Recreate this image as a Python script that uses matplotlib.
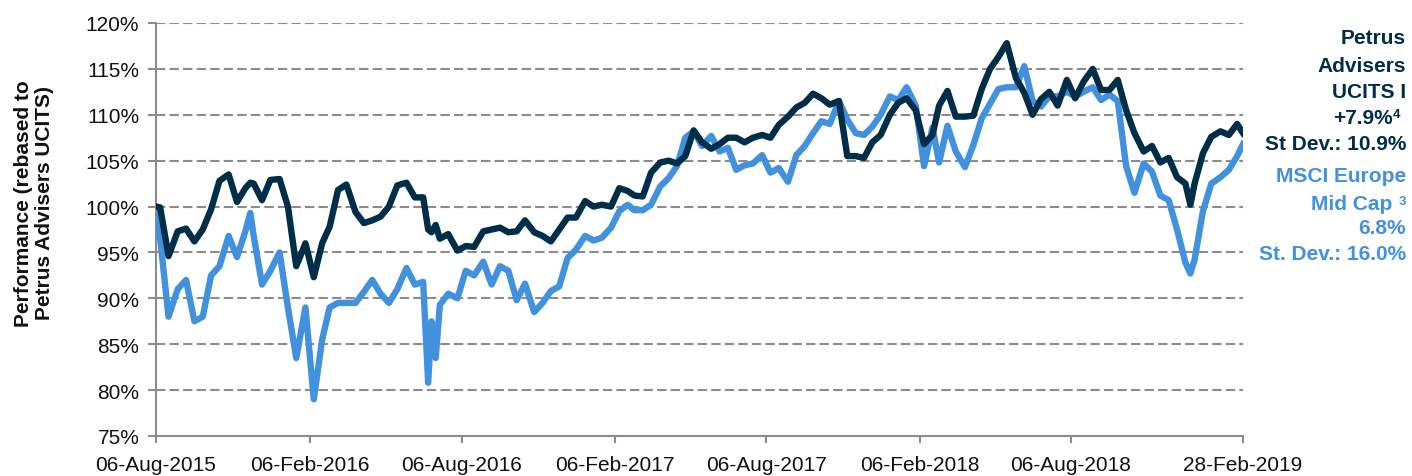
import matplotlib
matplotlib.use("Agg")
import matplotlib.pyplot as plt
import matplotlib.dates as mdates
import pandas as pd

# Valori (performance in %, ribasata a 100)
DATES = [
    "2015-08-06", "2015-08-11", "2015-08-21", "2015-09-01", "2015-09-11", "2015-09-21",
    "2015-10-01", "2015-10-11", "2015-10-21", "2015-11-01", "2015-11-11", "2015-11-21",
    "2015-11-27", "2015-12-01", "2015-12-11", "2015-12-21", "2016-01-01", "2016-01-11",
    "2016-01-21", "2016-02-01", "2016-02-11", "2016-02-21", "2016-03-01", "2016-03-11",
    "2016-03-21", "2016-04-01", "2016-04-11", "2016-04-21", "2016-05-01", "2016-05-11",
    "2016-05-21", "2016-06-01", "2016-06-11", "2016-06-21", "2016-06-27", "2016-07-01",
    "2016-07-06", "2016-07-11", "2016-07-21", "2016-08-01", "2016-08-11", "2016-08-21",
    "2016-09-01", "2016-09-11", "2016-09-21", "2016-10-01", "2016-10-11", "2016-10-21",
    "2016-11-01", "2016-11-11", "2016-11-21", "2016-12-01", "2016-12-11", "2016-12-21",
    "2017-01-01", "2017-01-11", "2017-01-21", "2017-02-01", "2017-02-11", "2017-02-21",
    "2017-03-01", "2017-03-11", "2017-03-21", "2017-04-01", "2017-04-11", "2017-04-21",
    "2017-05-01", "2017-05-11", "2017-05-21", "2017-06-01", "2017-06-11", "2017-06-21",
    "2017-07-01", "2017-07-11", "2017-07-21", "2017-08-01", "2017-08-11", "2017-08-21",
    "2017-09-01", "2017-09-11", "2017-09-21", "2017-10-01", "2017-10-11", "2017-10-21",
    "2017-11-01", "2017-11-11", "2017-11-21", "2017-12-01", "2017-12-11", "2017-12-21",
    "2018-01-01", "2018-01-11", "2018-01-21", "2018-02-01", "2018-02-11", "2018-02-21",
    "2018-03-01", "2018-03-11", "2018-03-21", "2018-04-01", "2018-04-11", "2018-04-21",
    "2018-05-01", "2018-05-11", "2018-05-21", "2018-06-01", "2018-06-11", "2018-06-21",
    "2018-07-01", "2018-07-11", "2018-07-21", "2018-08-01", "2018-08-11", "2018-08-21",
    "2018-09-01", "2018-09-11", "2018-09-21", "2018-10-01", "2018-10-11", "2018-10-21",
    "2018-11-01", "2018-11-11", "2018-11-21", "2018-12-01", "2018-12-11", "2018-12-21",
    "2018-12-27", "2019-01-01", "2019-01-11", "2019-01-21", "2019-02-01", "2019-02-11",
    "2019-02-21", "2019-02-28",
]

PETRUS = [
    100.0, 99.9, 94.6, 97.3, 97.6, 96.2,
    97.5, 99.7, 102.8, 103.5, 100.5, 102.0,
    102.6, 102.5, 100.7, 102.9, 103.0, 100.0,
    93.5, 96.0, 92.3, 96.0, 97.8, 101.8,
    102.4, 99.4, 98.2, 98.5, 98.9, 100.0,
    102.3, 102.6, 101.0, 101.0, 97.5, 97.2,
    98.0, 96.5, 97.0, 95.2, 95.7, 95.6,
    97.3, 97.5, 97.7, 97.2, 97.3, 98.5,
    97.2, 96.8, 96.2, 97.5, 98.8, 98.8,
    100.6, 100.0, 100.2, 100.0, 102.0, 101.7,
    101.2, 101.1, 103.7, 104.8, 105.0, 104.7,
    105.5, 108.3, 107.0, 106.3, 106.8, 107.5,
    107.5, 107.0, 107.5, 107.8, 107.5, 108.9,
    109.8, 110.8, 111.3, 112.3, 111.8, 111.1,
    111.5, 105.5, 105.5, 105.3, 107.0, 107.8,
    110.0, 111.3, 111.8, 110.5, 106.8, 107.8,
    111.0, 112.6, 109.8, 109.8, 109.9, 112.8,
    115.0, 116.3, 117.8, 114.0, 112.4, 110.0,
    111.7, 112.5, 111.0, 113.8, 111.8, 113.6,
    115.0, 112.7, 112.7, 113.8, 110.5, 108.0,
    106.0, 106.6, 104.8, 105.3, 103.2, 102.5,
    100.2, 102.5, 105.8, 107.6, 108.2, 107.8,
    109.0, 108.0,
]

MSCI = [
    99.5, 96.5, 88.0, 91.0, 92.0, 87.5,
    88.0, 92.5, 93.5, 96.8, 94.5, 97.3,
    99.3, 96.8, 91.5, 93.0, 95.0, 89.0,
    83.5, 89.0, 79.0, 85.5, 89.0, 89.5,
    89.5, 89.5, 90.7, 92.0, 90.5, 89.5,
    91.0, 93.3, 91.5, 91.8, 80.8, 87.5,
    83.5, 89.3, 90.5, 90.0, 93.0, 92.5,
    94.0, 91.5, 93.5, 93.0, 89.8, 91.6,
    88.5, 89.5, 90.8, 91.3, 94.4, 95.3,
    96.8, 96.3, 96.6, 97.7, 99.5, 100.2,
    99.6, 99.6, 100.2, 102.2, 103.1, 104.4,
    107.5, 108.2, 106.6, 107.7, 106.0, 106.4,
    104.0, 104.5, 104.7, 105.6, 103.7, 104.2,
    102.7, 105.6, 106.6, 108.0, 109.3, 109.0,
    111.5, 109.5, 108.0, 107.8, 108.7, 110.0,
    112.0, 111.6, 113.0, 111.0, 104.4, 108.6,
    104.8, 108.8, 106.0, 104.3, 106.7, 109.6,
    111.2, 112.8, 113.0, 113.0, 115.3, 111.5,
    110.9, 112.0, 112.0, 112.5, 112.0, 112.5,
    113.0, 111.6, 112.2, 111.5, 104.4, 101.5,
    104.7, 103.8, 101.2, 100.7, 97.5, 93.9,
    92.7, 94.2, 99.5, 102.5, 103.2, 104.0,
    105.5, 106.8,
]

TICK_DATES = ["2015-08-06", "2016-02-06", "2016-08-06", "2017-02-06",
              "2017-08-06", "2018-02-06", "2018-08-06", "2019-02-28"]
Y_TICKS = [75, 80, 85, 90, 95, 100, 105, 110, 115, 120]

DARK = "#002d47"
LIGHT = "#4291df"
GRID = "#8c8c8c"

plt.rcParams['font.family'] = ['Liberation Sans', 'DejaVu Sans']

dates = pd.to_datetime(DATES)
ticks = pd.to_datetime(TICK_DATES)

fig = plt.figure(figsize=(14.12, 4.77), dpi=100)
ax = fig.add_axes([156 / 1412, 40 / 477, 1087 / 1412, 413 / 477])

ax.plot(dates, MSCI, color=LIGHT, lw=4.6, solid_joinstyle="round", zorder=3)
ax.plot(dates, PETRUS, color=DARK, lw=4.6, solid_joinstyle="round", zorder=4)

ax.set_xlim(ticks[0], ticks[-1])
ax.set_ylim(75, 120)
ax.set_yticks(Y_TICKS)
ax.set_yticklabels([f"{v}%" for v in Y_TICKS])
ax.set_xticks(ticks)
ax.xaxis.set_major_formatter(mdates.DateFormatter("%d-%b-%Y"))

for v in Y_TICKS[1:]:
    ax.axhline(v, color=GRID, lw=1.5, linestyle=(0, (4.5, 2)), zorder=1)

for s in ["top", "right"]:
    ax.spines[s].set_visible(False)
for s in ["left", "bottom"]:
    ax.spines[s].set_color(GRID)
    ax.spines[s].set_linewidth(1.5)

ax.tick_params(axis="y", direction="out", length=6, width=1.5, color=GRID,
               labelsize=15, pad=6, labelcolor="#111111")
ax.tick_params(axis="x", direction="out", length=5, width=1.5, color=GRID,
               labelsize=15, pad=9, labelcolor="#111111")

fig.text(0.024, 0.574, "Performance (rebased to\nPetrus Advisers UCITS)",
         rotation=90, ha="center", va="center", multialignment="center",
         fontsize=15, fontweight="bold", color="#111111", linespacing=1.15)

# testo a destra: nomi, performance e deviazione standard
right_x = 1406 / 1412
sup_x = 1392.5 / 1412
petrus_lines = ["Petrus", "Advisers", "UCITS I", "+7.9%", "St Dev.: 10.9%"]
msci_lines = ["MSCI Europe", "Mid Cap", "6.8%", "St. Dev.: 16.0%"]
petrus_y = [39, 66, 92, 119, 145]
msci_y = [177, 204, 229, 255]
petrus_x = [right_x, right_x, right_x, sup_x, right_x]
msci_x = [right_x, 1392 / 1412, right_x, right_x]
for txt, px, py in zip(petrus_lines, petrus_x, petrus_y):
    fig.text(px, 1 - py / 477, txt, ha="right", va="center",
             fontsize=15, fontweight="bold", color=DARK)
for txt, px, py in zip(msci_lines, msci_x, msci_y):
    fig.text(px, 1 - py / 477, txt, ha="right", va="center",
             fontsize=15, fontweight="bold", color=LIGHT)
fig.text(sup_x + 0.5 / 1412, 1 - 115 / 477, "4", ha="left", va="center",
         fontsize=9.5, fontweight="bold", color=DARK)
fig.text(1398.5 / 1412, 1 - 202 / 477, "3", ha="left", va="center",
         fontsize=9.5, fontweight="bold", color=LIGHT)

fig.savefig("out.png", dpi=100)
